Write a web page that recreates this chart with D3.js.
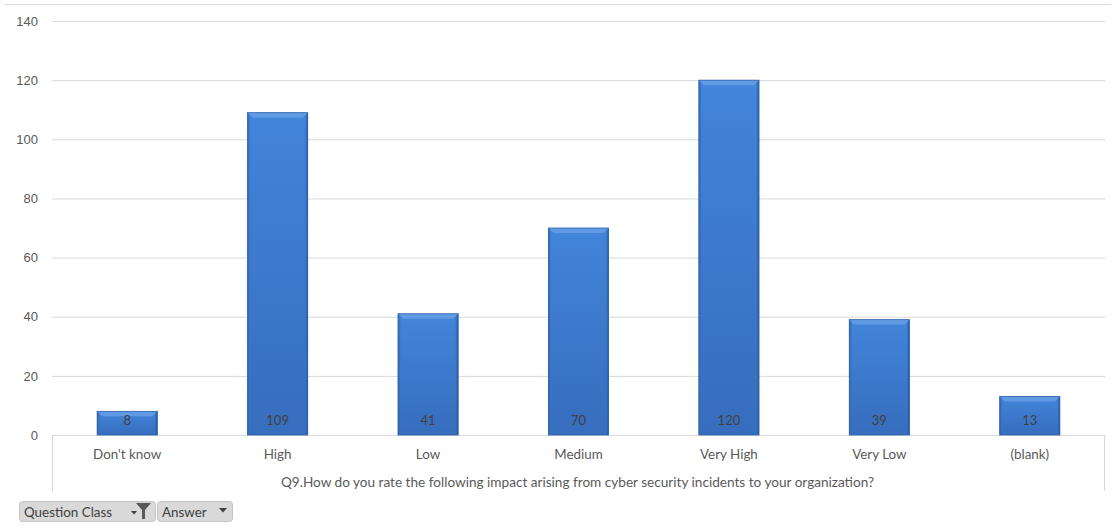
<!DOCTYPE html>
<html>
<head>
<meta charset="utf-8">
<script src="https://cdn.jsdelivr.net/npm/d3@7"></script>
<style>
  html, body { margin: 0; padding: 0; background: #ffffff; }
  svg { display: block; font-family: Lato, "Open Sans", sans-serif; }
</style>
</head>
<body>
<svg id="chart" width="1116" height="529"></svg>
<script>
// Survey answers and their counts
const categories = ["Don't know", "High", "Low", "Medium", "Very High", "Very Low", "(blank)"];
const counts = [8, 109, 41, 70, 120, 39, 13];
const yTicks = [0, 20, 40, 60, 80, 100, 120, 140];
const axisTitle = "Q9.How do you rate the following impact arising from cyber security incidents to your organization?";
const filterButtons = ["Question Class", "Answer"];

const svg = d3.select("#chart");
const plot = { left: 52, right: 1105, top: 21, bottom: 435 };

const x = d3.scaleBand().domain(categories).range([plot.left, plot.right]).paddingInner(0.6).paddingOuter(0.3);
const y = d3.scaleLinear().domain([0, 140]).range([plot.bottom, plot.top]);

// Gradients for the bevelled bars
const defs = svg.append("defs");
const body = defs.append("linearGradient").attr("id", "barBody").attr("x1", 0).attr("y1", 0).attr("x2", 0).attr("y2", 1);
body.append("stop").attr("offset", "0%").attr("stop-color", "#4285da");
body.append("stop").attr("offset", "100%").attr("stop-color", "#376dbd");
const side = defs.append("linearGradient").attr("id", "barSide").attr("x1", 0).attr("y1", 0).attr("x2", 1).attr("y2", 0);
side.append("stop").attr("offset", "0%").attr("stop-color", "#2d5fa6");
side.append("stop").attr("offset", "6%").attr("stop-color", "#3f80d6").attr("stop-opacity", 0);
side.append("stop").attr("offset", "94%").attr("stop-color", "#3f80d6").attr("stop-opacity", 0);
side.append("stop").attr("offset", "100%").attr("stop-color", "#244f8f");

// Frame line across the top
svg.append("line").attr("x1", 5).attr("x2", 1111).attr("y1", 4.5).attr("y2", 4.5)
  .attr("stroke", "#d9d9d9").attr("stroke-width", 1);

// Horizontal gridlines and value axis
const yAxis = d3.axisLeft(y).tickValues(yTicks).tickSize(-(plot.right - plot.left)).tickPadding(14);
const gy = svg.append("g").attr("transform", `translate(${plot.left},0)`).call(yAxis);
gy.select(".domain").remove();
gy.selectAll(".tick line").attr("stroke", "#d9d9d9");
gy.selectAll(".tick text").attr("fill", "#595959").style("font-size", "13px")
  .attr("text-anchor", "end").attr("x", -14);

// Category table box below the axis
svg.append("path")
  .attr("d", `M${plot.left + 0.5},${plot.bottom + 56} V${plot.bottom + 0.5} H${plot.right - 0.5} V${plot.bottom + 56}`)
  .attr("fill", "none").attr("stroke", "#d9d9d9");

// Bars
const bars = svg.append("g").selectAll("g").data(categories).join("g");
const bw = x.bandwidth();
bars.append("rect")
  .attr("x", d => x(d)).attr("y", (d, i) => y(counts[i]))
  .attr("width", bw).attr("height", (d, i) => y(0) - y(counts[i]))
  .attr("fill", "url(#barBody)");
bars.append("rect")
  .attr("x", d => x(d)).attr("y", (d, i) => y(counts[i]))
  .attr("width", bw).attr("height", (d, i) => y(0) - y(counts[i]))
  .attr("fill", "url(#barSide)");
// lighter top bevel
bars.append("path")
  .attr("d", (d, i) => {
    const x0 = x(d), x1 = x(d) + bw, yt = y(counts[i]);
    return `M${x0},${yt} H${x1} L${x1 - 5},${yt + 5} H${x0 + 5} Z`;
  })
  .attr("fill", "#68a0e6").attr("opacity", 0.8);
bars.append("rect")
  .attr("x", d => x(d)).attr("y", (d, i) => y(counts[i]))
  .attr("width", bw).attr("height", (d, i) => y(0) - y(counts[i]))
  .attr("fill", "none").attr("stroke", "#2f62ad").attr("stroke-width", 0.8);

// Value labels inside bar bottoms
bars.append("text")
  .attr("x", d => x(d) + bw / 2).attr("y", plot.bottom - 10)
  .attr("text-anchor", "middle").attr("fill", "#404040")
  .style("font-size", "13px")
  .text((d, i) => counts[i]);

// Category labels
svg.append("g").selectAll("text").data(categories).join("text")
  .attr("x", d => x(d) + bw / 2).attr("y", 458.5)
  .attr("text-anchor", "middle").attr("fill", "#595959").style("font-size", "13.4px")
  .text(d => d);

// Axis title
svg.append("text").attr("x", (plot.left + plot.right) / 2 - 1).attr("y", 486.5)
  .attr("text-anchor", "middle").attr("fill", "#595959").style("font-size", "13.6px")
  .text(axisTitle);

// Pivot field buttons
const btn = [{ x: 19, w: 136, label: filterButtons[0], filter: true }, { x: 157, w: 75, label: filterButtons[1], filter: false }];
const bg = svg.append("g").selectAll("g").data(btn).join("g");
bg.append("rect").attr("x", d => d.x + 0.5).attr("y", 501.5).attr("width", d => d.w).attr("height", 20)
  .attr("rx", 3).attr("fill", "#d9d9d9").attr("stroke", "#c4c4c4");
bg.append("text").attr("x", d => d.x + 5).attr("y", 516.5).attr("fill", "#404040")
  .style("font-size", "13.4px").text(d => d.label);
// dropdown arrows
bg.append("path").attr("d", d => d.filter
    ? `M${d.x + 112},${511} h6 l-3,3.5 z`
    : `M${d.x + 62},${508} h8 l-4,4.5 z`)
  .attr("fill", "#404040");
// filter funnel icon
bg.filter(d => d.filter).append("path")
  .attr("d", d => `M${d.x + 117},${503} h15 l-6,7 v9 h-3 v-9 z`)
  .attr("fill", "#595959");
</script>
</body>
</html>
